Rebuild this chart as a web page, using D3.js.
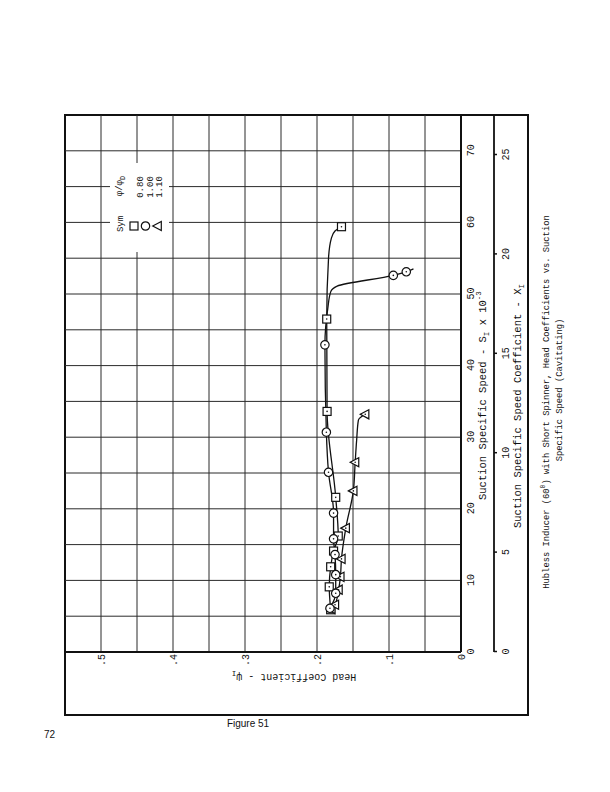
<!DOCTYPE html>
<html><head><meta charset="utf-8">
<script src="https://cdn.jsdelivr.net/npm/d3@7/dist/d3.min.js"></script>
<style>body{margin:0;background:#fff}svg{display:block}</style>
</head><body>
<svg id="c" width="610" height="792"></svg>
<script>
// ---- data ----
const sTicks = [0, 10, 20, 30, 40, 50, 60, 70];
const hTicks = [0, 0.1, 0.2, 0.3, 0.4, 0.5];
const xiTicks = [0, 5, 10, 15, 20, 25];
const legendLabels = ["0.80", "1.00", "1.10"];

// phi/phiD = 0.80 (squares)
const sqS = [5.9, 9.1, 11.9, 14.1, 16.2, 21.6, 33.6, 46.5, 59.4];
const sqH = [0.181, 0.183, 0.181, 0.177, 0.1705, 0.174, 0.186, 0.1865, 0.166];
// phi/phiD = 1.00 (circles)
const ciS = [6.1, 8.2, 10.8, 13.6, 15.8, 19.4, 25.1, 30.7, 42.9, 52.6, 53.1];
const ciH = [0.182, 0.174, 0.174, 0.175, 0.177, 0.177, 0.184, 0.187, 0.189, 0.094, 0.076];
// phi/phiD = 1.10 (triangles)
const trS = [6.0, 6.6, 8.7, 10.5, 13.0, 17.3, 22.5, 26.5, 33.2];
const trH = [0.180, 0.175, 0.170, 0.1675, 0.166, 0.160, 0.1495, 0.147, 0.133];

// hand-faired curves
const sqFitS = [5.9, 9.1, 11.9, 14.1, 16.2, 21.6, 33.6, 46.5, 55.0, 57.8, 58.8, 59.4];
const sqFitH = [0.181, 0.183, 0.181, 0.177, 0.1705, 0.174, 0.186, 0.1865, 0.184, 0.180, 0.175, 0.166];
const ciFitS = [6.1, 8.2, 10.8, 13.6, 15.8, 19.4, 25.1, 30.7, 42.9, 48.0, 50.3, 51.1, 52.6, 53.1, 53.5];
const ciFitH = [0.182, 0.174, 0.174, 0.175, 0.177, 0.177, 0.184, 0.187, 0.189, 0.185, 0.181, 0.172, 0.094, 0.076, 0.066];
const trFitS = [6.0, 6.6, 8.7, 10.5, 13.0, 17.3, 22.5, 26.5, 29.5, 32.4, 33.2];
const trFitH = [0.180, 0.175, 0.170, 0.1675, 0.166, 0.160, 0.1495, 0.147, 0.145, 0.1425, 0.133];

// ---- drawing ----
const mono = "'Liberation Mono','DejaVu Sans Mono',monospace";
const svg = d3.select("#c");
svg.append("rect").attr("width", 610).attr("height", 792).attr("fill", "#fff");

// The chart is printed turned a quarter turn counter-clockwise on the page
const W = 537, H = 396;
const g = svg.append("g").attr("transform", "translate(65,652) rotate(-90)");
const x = d3.scaleLinear().domain([0, 75]).range([0, W]);
const y = d3.scaleLinear().domain([0, 0.55]).range([H, 0]);
const xi = d3.scaleLinear().domain([0, 25]).range([0, 497]);

// outer frame
g.append("rect").attr("x", -63).attr("y", 0).attr("width", 600).attr("height", 463)
  .attr("fill", "none").attr("stroke", "#111").attr("stroke-width", 2);

// grid
const sGrid = d3.range(1, 15).map(i => i * 5);
const hGrid = d3.range(1, 11).map(i => i * 0.05);
g.append("g").selectAll("line").data(sGrid).join("line")
  .attr("x1", d => x(d)).attr("x2", d => x(d)).attr("y1", 0).attr("y2", H)
  .attr("stroke", "#2a2a2a").attr("stroke-width", 1);
g.append("g").selectAll("line").data(hGrid).join("line")
  .attr("x1", 0).attr("x2", W).attr("y1", d => y(d)).attr("y2", d => y(d))
  .attr("stroke", "#2a2a2a").attr("stroke-width", 1);

// axis lines
g.append("line").attr("x1", 0).attr("x2", 0).attr("y1", 0).attr("y2", H)
  .attr("stroke", "#111").attr("stroke-width", 2);
g.append("line").attr("x1", 0).attr("x2", W).attr("y1", H).attr("y2", H)
  .attr("stroke", "#111").attr("stroke-width", 2);

// S axis labels
const ax1 = g.append("g").attr("transform", `translate(0,${H})`)
  .call(d3.axisBottom(x).tickValues(sTicks).tickSize(0).tickPadding(6));
ax1.select(".domain").remove();
ax1.selectAll("text").attr("font-family", mono).attr("font-size", 10).attr("fill", "#111");

// head coefficient labels
const hfmt = d => d === 0 ? "0" : d3.format(".1f")(d).replace(/^0/, "");
const ax2 = g.append("g")
  .call(d3.axisLeft(y).tickValues(hTicks).tickSize(0).tickPadding(2).tickFormat(hfmt));
ax2.select(".domain").remove();
ax2.selectAll("text").attr("font-family", mono).attr("font-size", 10).attr("fill", "#111");

// secondary axis (suction specific speed coefficient)
g.append("line").attr("x1", 0).attr("x2", W).attr("y1", 429).attr("y2", 429)
  .attr("stroke", "#111").attr("stroke-width", 1.8);
const ax3 = g.append("g").attr("transform", "translate(0,429)")
  .call(d3.axisBottom(xi).tickValues(xiTicks).tickSize(3).tickPadding(5));
ax3.select(".domain").remove();
ax3.selectAll("line").attr("stroke", "#111").attr("stroke-width", 1.5);
ax3.selectAll("text").attr("font-family", mono).attr("font-size", 10).attr("fill", "#111");

// axis titles
const t1 = g.append("text").attr("x", 152).attr("y", 421)
  .attr("font-family", mono).attr("font-size", 10.5).attr("fill", "#111");
t1.append("tspan").text("Suction Specific Speed - S");
t1.append("tspan").attr("font-size", 7.5).attr("dy", 3).text("I");
t1.append("tspan").attr("dy", -3).text(" x 10");
t1.append("tspan").attr("font-size", 7.5).attr("dy", -5).text("-3");

const t2 = g.append("text").attr("x", 124).attr("y", 456)
  .attr("font-family", mono).attr("font-size", 10.5).attr("fill", "#111");
t2.append("tspan").text("Suction Specific Speed Coefficient - X");
t2.append("tspan").attr("font-size", 7.5).attr("dy", 3).text("I");

const t3 = g.append("text").attr("transform", "translate(-22,229) rotate(-90)")
  .attr("text-anchor", "middle")
  .attr("font-family", mono).attr("font-size", 10).attr("fill", "#111");
t3.append("tspan").text("Head Coefficient - \u03C8");
t3.append("tspan").attr("font-size", 7.5).attr("dy", 3).text("I");

// legend (white panel interrupts grid)
g.append("rect").attr("x", 400).attr("y", 45).attr("width", 89).attr("height", 59).attr("fill", "#fff");
g.append("text").attr("x", 428).attr("y", 58).attr("text-anchor", "middle")
  .attr("font-family", mono).attr("font-size", 9).attr("fill", "#111").text("Sym");
const lh = g.append("text").attr("x", 466).attr("y", 57).attr("text-anchor", "middle")
  .attr("font-family", mono).attr("font-size", 9).attr("fill", "#111");
lh.append("tspan").text("\u03C6/\u03C6");
lh.append("tspan").attr("font-size", 7).attr("dy", 3).text("D");
g.append("g").selectAll("text").data(legendLabels).join("text")
  .attr("x", 465).attr("y", (d, i) => 78 + i * 9.6).attr("text-anchor", "middle")
  .attr("font-family", mono).attr("font-size", 9).attr("fill", "#111").text(d => d);

// marker shapes
const triPath = "M0,-5L4.6,3.6L-4.6,3.6Z";
function drawMarker(sel, kind) {
  if (kind === "sq") sel.append("rect").attr("x", -4).attr("y", -4).attr("width", 8).attr("height", 8);
  else if (kind === "ci") sel.append("circle").attr("r", 4.2);
  else sel.append("path").attr("d", triPath);
  sel.selectAll("rect,circle,path").attr("fill", "#fff").attr("stroke", "#111").attr("stroke-width", 1.2);
}
// legend symbols
["sq", "ci", "tr"].forEach((k, i) => {
  const m = g.append("g").attr("transform", `translate(426,${[69, 80.5, 92.7][i]})`);
  drawMarker(m, k);
});

// curves
const line = d3.line().x(d => x(d[0])).y(d => y(d[1])).curve(d3.curveMonotoneX);
const fits = [[sqFitS, sqFitH], [ciFitS, ciFitH], [trFitS, trFitH]];
fits.forEach(([S, Hv]) => {
  g.append("path").datum(S.map((s, i) => [s, Hv[i]])).attr("d", line)
    .attr("fill", "none").attr("stroke", "#111").attr("stroke-width", 1.3);
});

// markers
const series = [["sq", sqS, sqH], ["tr", trS, trH], ["ci", ciS, ciH]];
series.forEach(([k, S, Hv]) => {
  const pts = S.map((s, i) => [s, Hv[i]]);
  const grp = g.append("g").selectAll("g").data(pts).join("g")
    .attr("transform", d => `translate(${x(d[0])},${y(d[1])})`);
  grp.each(function () { drawMarker(d3.select(this), k); });
  grp.append("circle").attr("r", 0.8).attr("fill", "#111");
});

// page texts
svg.append("text").attr("x", 248).attr("y", 727).attr("text-anchor", "middle")
  .attr("font-family", "'Liberation Sans',Arial,sans-serif").attr("font-size", 10).attr("fill", "#111")
  .text("Figure 51");
svg.append("text").attr("x", 44).attr("y", 738)
  .attr("font-family", "'Liberation Sans',Arial,sans-serif").attr("font-size", 10).attr("fill", "#111")
  .text("72");
const cap1 = svg.append("text").attr("transform", "translate(549,402) rotate(-90)").attr("text-anchor", "middle")
  .attr("font-family", mono).attr("font-size", 8.8).attr("fill", "#111");
cap1.append("tspan").text("Hubless Inducer (60");
cap1.append("tspan").attr("font-size", 6.5).attr("dy", -4).text("0");
cap1.append("tspan").attr("dy", 4).text(") with Short Spinner, Head Coefficients vs. Suction");
svg.append("text").attr("transform", "translate(562,390) rotate(-90)").attr("text-anchor", "middle")
  .attr("font-family", mono).attr("font-size", 8.8).attr("fill", "#111")
  .text("Specific Speed (Cavitating)");
</script>
</body></html>
